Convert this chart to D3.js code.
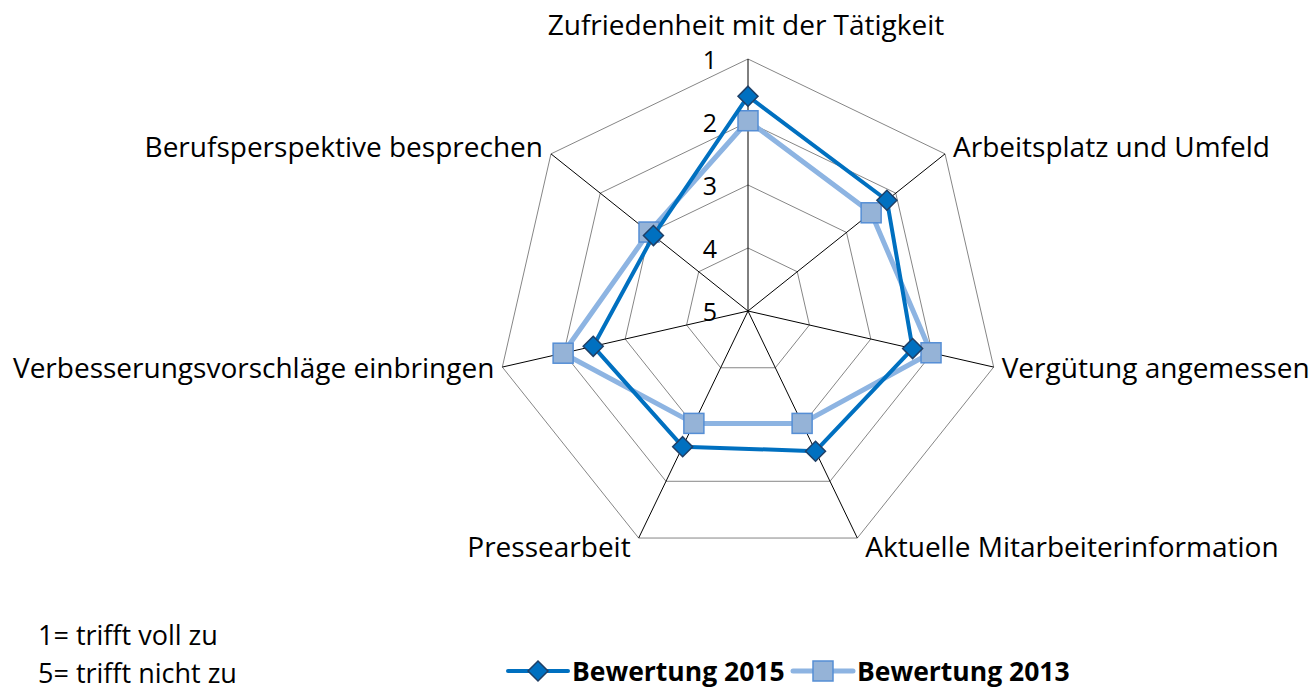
<!DOCTYPE html>
<html>
<head>
<meta charset="utf-8">
<script src="https://cdn.jsdelivr.net/npm/d3@7"></script>
<style>
  body { margin: 0; background: #fff; }
  svg { font-family: "Open Sans", Lato, sans-serif; }
</style>
</head>
<body>
<div id="chart"></div>
<script>
const categories = [
  'Zufriedenheit mit der Tätigkeit',
  'Arbeitsplatz und Umfeld',
  'Vergütung angemessen',
  'Aktuelle Mitarbeiterinformation',
  'Pressearbeit',
  'Verbesserungsvorschläge einbringen',
  'Berufsperspektive besprechen'
];
const values2015 = [1.59, 2.18, 2.32, 2.53, 2.61, 2.48, 3.08];
const values2013 = [1.98, 2.50, 2.02, 3.02, 3.02, 1.99, 2.99];
const ticks = [1, 2, 3, 4, 5];
const seriesNames = ['Bewertung 2015', 'Bewertung 2013'];
const notes = ['1= trifft voll zu', '5= trifft nicht zu'];

const w = 1312, h = 690;
const cx = 748, cy = 311, R = 252;

const svg = d3.select('#chart').append('svg')
  .attr('width', w)
  .attr('height', h);

// 1 is outside, 5 sits in the centre
const r = d3.scaleLinear().domain([5, 1]).range([0, R]);
const angle = d3.scaleLinear().domain([0, categories.length]).range([0, 2 * Math.PI]);
const px = (i, v) => cx + r(v) * Math.sin(angle(i));
const py = (i, v) => cy - r(v) * Math.cos(angle(i));

// rings
ticks.slice(0, 4).forEach((t) => {
  svg.append('polygon')
    .attr('points', categories.map((c, i) => `${px(i, t)},${py(i, t)}`).join(' '))
    .attr('fill', 'none')
    .attr('stroke', '#868686')
    .attr('stroke-width', 1);
});

// spokes
categories.forEach((c, i) => {
  svg.append('line')
    .attr('x1', cx).attr('y1', cy)
    .attr('x2', px(i, 1)).attr('y2', py(i, 1))
    .attr('stroke', '#000')
    .attr('stroke-width', 1);
});

// tick labels
svg.append('g').selectAll('text')
  .data(ticks)
  .join('text')
  .attr('x', cx - 31)
  .attr('y', (d) => cy - r(d) + 1)
  .attr('dy', '0.36em')
  .attr('text-anchor', 'end')
  .attr('font-size', 25)
  .text((d) => d);

// category labels
svg.append('g').selectAll('text')
  .data(categories)
  .join('text')
  .attr('x', (d, i) => {
    const s = Math.sin(angle(i));
    return px(i, 1) + (Math.abs(s) < 0.01 ? -2 : s > 0 ? 8 : -8);
  })
  .attr('y', (d, i) => {
    const c = Math.cos(angle(i));
    return py(i, 1) + (c > 0.99 ? -34 : c > 0 ? -7 : c > -0.5 ? 1 : 9);
  })
  .attr('dy', '0.36em')
  .attr('text-anchor', (d, i) => {
    const s = Math.sin(angle(i));
    return Math.abs(s) < 0.01 ? 'middle' : s > 0 ? 'start' : 'end';
  })
  .attr('font-size', 28)
  .text((d) => d);

const line = d3.lineRadial()
  .angle((d, i) => angle(i))
  .radius((d) => r(d))
  .curve(d3.curveLinearClosed);

const series = [
  { name: seriesNames[1], values: values2013, stroke: '#8DB4E2', width: 5, fill: '#95B3D7', edge: '#558ED5', shape: 'square' },
  { name: seriesNames[0], values: values2015, stroke: '#0070C0', width: 4, fill: '#0070C0', edge: '#1F3F66', shape: 'diamond' }
];

function marker(g, shape, fill, edge, x, y) {
  if (shape === 'square') {
    g.append('rect')
      .attr('x', x - 10).attr('y', y - 10)
      .attr('width', 20).attr('height', 20)
      .attr('fill', fill)
      .attr('stroke', edge)
      .attr('stroke-width', 1.5);
  } else {
    g.append('path')
      .attr('d', `M${x},${y - 10}L${x + 10},${y}L${x},${y + 10}L${x - 10},${y}Z`)
      .attr('fill', fill)
      .attr('stroke', edge)
      .attr('stroke-width', 1.5);
  }
}

series.forEach((s) => {
  const g = svg.append('g');
  g.append('path')
    .attr('transform', `translate(${cx},${cy})`)
    .attr('d', line(s.values))
    .attr('fill', 'none')
    .attr('stroke', s.stroke)
    .attr('stroke-width', s.width)
    .attr('stroke-linejoin', 'round');
  s.values.forEach((v, i) => marker(g, s.shape, s.fill, s.edge, px(i, v), py(i, v)));
});

// notes
svg.append('g').selectAll('text')
  .data(notes)
  .join('text')
  .attr('x', 38)
  .attr('y', (d, i) => 635 + i * 38)
  .attr('dy', '0.36em')
  .attr('font-size', 27)
  .text((d) => d);

// legend
const legend = svg.append('g');
const lx = [508, 793];
[series[1], series[0]].forEach((s, i) => {
  const x0 = lx[i], y0 = 671;
  legend.append('line')
    .attr('x1', x0).attr('x2', x0 + 60)
    .attr('y1', y0).attr('y2', y0)
    .attr('stroke', s.stroke)
    .attr('stroke-width', s.width)
    .attr('stroke-linecap', 'round');
  marker(legend, s.shape, s.fill, s.edge, x0 + 30, y0);
  legend.append('text')
    .attr('x', x0 + 64)
    .attr('y', y0)
    .attr('dy', '0.36em')
    .attr('font-size', 26.5)
    .attr('font-weight', 'bold')
    .text(s.name);
});
</script>
</body>
</html>
